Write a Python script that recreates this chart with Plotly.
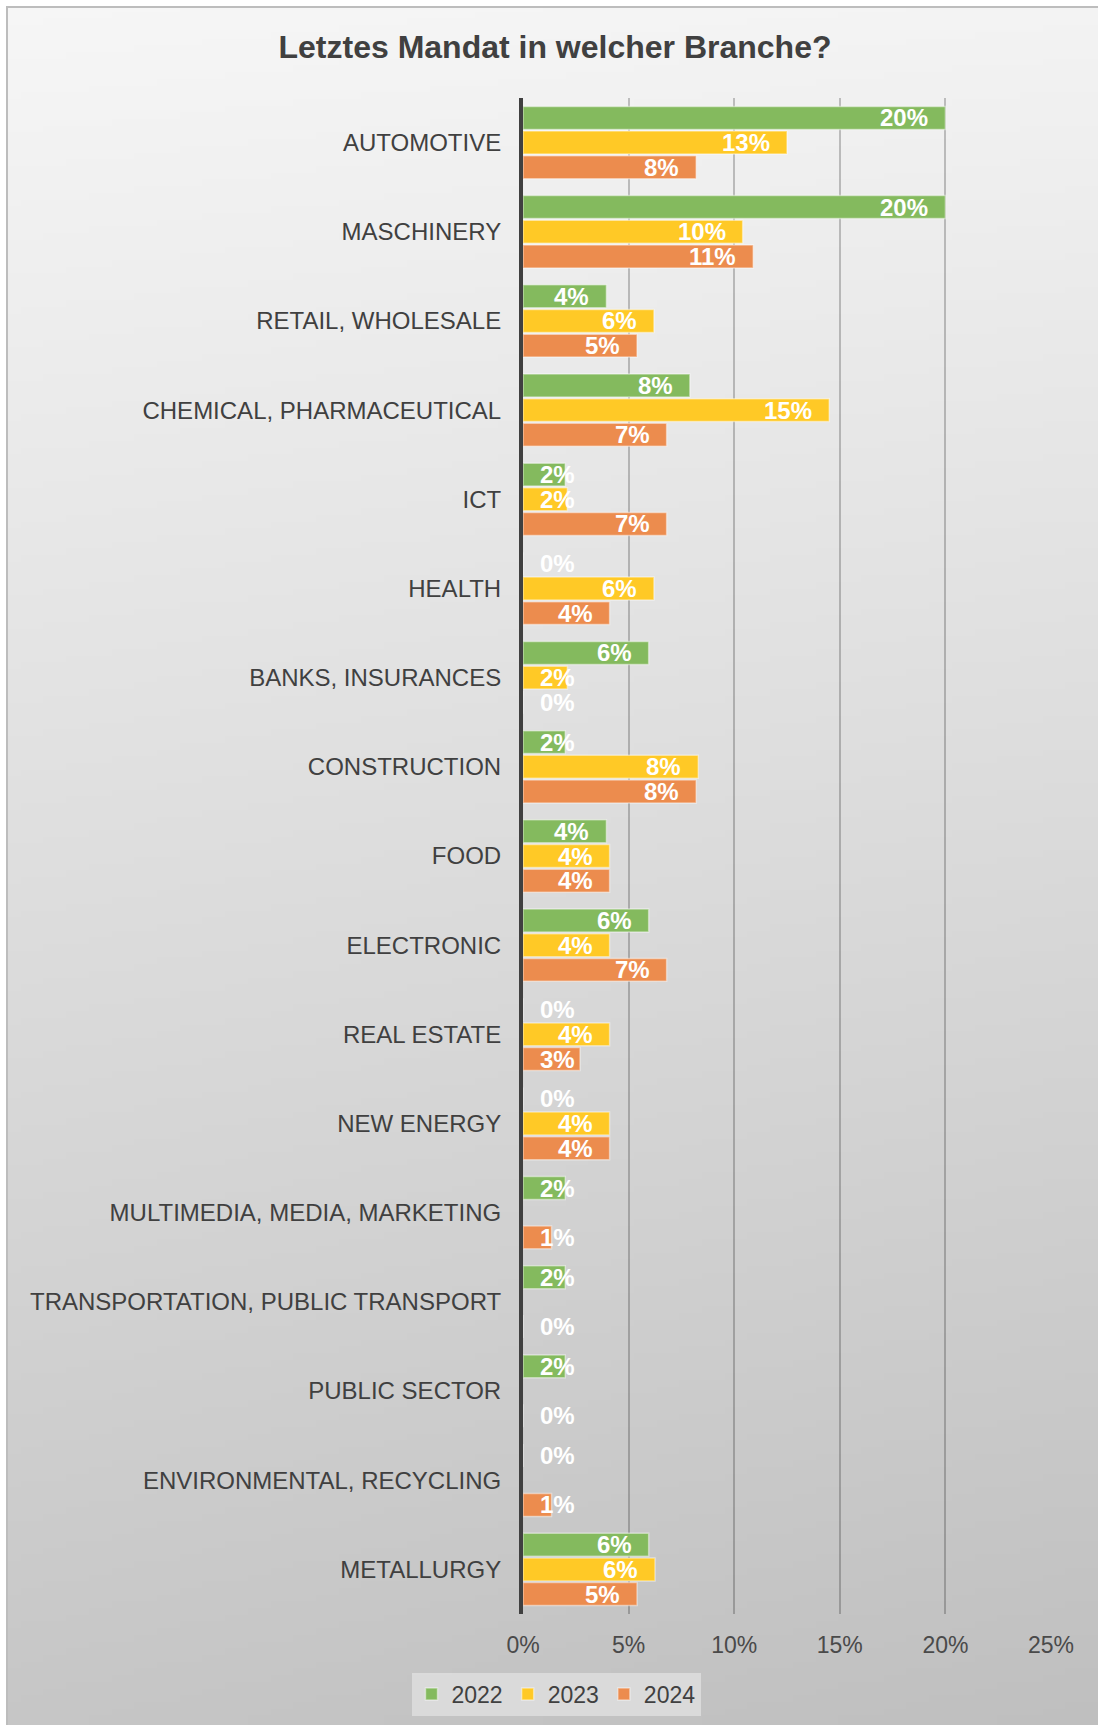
import math, zlib, struct, base64
import plotly.graph_objects as go

categories = ["AUTOMOTIVE", "MASCHINERY", "RETAIL, WHOLESALE", "CHEMICAL, PHARMACEUTICAL",
              "ICT", "HEALTH", "BANKS, INSURANCES", "CONSTRUCTION", "FOOD", "ELECTRONIC",
              "REAL ESTATE", "NEW ENERGY", "MULTIMEDIA, MEDIA, MARKETING",
              "TRANSPORTATION, PUBLIC TRANSPORT", "PUBLIC SECTOR", "ENVIRONMENTAL, RECYCLING",
              "METALLURGY"]
v2022 = [20.0, 20.0, 3.95, 7.9, 2.0, 0, 5.95, 2.0, 3.95, 5.95, 0, 0, 2.0, 2.0, 2.0, 0, 5.95]
v2023 = [12.5, 10.4, 6.2, 14.5, 2.1, 6.2, 2.1, 8.3, 4.1, 4.1, 4.1, 4.1, None, None, None, None, 6.25]
v2024 = [8.2, 10.9, 5.4, 6.8, 6.8, 4.1, 0, 8.2, 4.1, 6.8, 2.7, 4.1, 1.35, 0, 0, 1.35, 5.4]
series_names = ["2022", "2023", "2024"]
series_vals = [v2022, v2023, v2024]
colors = ["#84BA5E", "#FFC926", "#EC8C4E"]
x_ticks = [0, 5, 10, 15, 20, 25]

W, H = 1098, 1725
ML, MR, MT, MB = 523, 47, 98, 111
PW, PH = W - ML - MR, H - MT - MB
XMAX = 25
BARGAP, GROUPGAP = 0.17, 0.07
FONT = "Liberation Sans, Arial, sans-serif"
DARK = "#404040"


def make_png(w, h):
    rows = []
    for yy in range(h):
        v = yy / (h - 1)
        row = bytearray([0])
        for xx in range(w):
            u = xx / (w - 1)
            c = int(round(246 - 3 * u - 48 * v - 4 * u * v))
            row += bytes([c, c, c])
        rows.append(bytes(row))
    raw = b"".join(rows)

    def chunk(t, d):
        return struct.pack(">I", len(d)) + t + d + struct.pack(">I", zlib.crc32(t + d) & 0xffffffff)
    ihdr = struct.pack(">IIBBBBB", w, h, 8, 2, 0, 0, 0)
    return (b"\x89PNG\r\n\x1a\n" + chunk(b"IHDR", ihdr) +
            chunk(b"IDAT", zlib.compress(raw, 9)) + chunk(b"IEND", b""))


bg_uri = "data:image/png;base64," + base64.b64encode(make_png(48, 256)).decode()

fig = go.Figure()
for name, vals, col in zip(series_names, series_vals, colors):
    fig.add_trace(go.Bar(
        y=categories, x=vals, name=name, orientation="h",
        marker=dict(color=col, line=dict(color="rgba(255,255,255,0.45)", width=1.5)),
        hoverinfo="x+y+name"))

# data labels
px_per_unit = PW / XMAX
pitch = PH / len(categories) * (1 - BARGAP) / 3
annotations = []
for i, (vals, shift) in enumerate(zip(series_vals, [pitch, 0, -pitch])):
    for cat, v in zip(categories, vals):
        if v is None:
            continue
        txt = f"{int(math.floor(v + 0.5))}%"
        if v * px_per_unit >= 67:
            ax, anchor, xs = v, "right", -15
        else:
            ax, anchor, xs = 0, "left", 15
        annotations.append(dict(
            x=ax, y=cat, xref="x", yref="y", text=f"<b>{txt}</b>", showarrow=False,
            xanchor=anchor, yanchor="middle", xshift=xs, yshift=shift,
            font=dict(family=FONT, size=24, color="white")))

fig.update_layout(
    width=W, height=H,
    margin=dict(l=ML, r=MR, t=MT, b=MB, pad=0),
    paper_bgcolor="white", plot_bgcolor="rgba(0,0,0,0)",
    barmode="group", bargap=BARGAP, bargroupgap=GROUPGAP,
    font=dict(family=FONT, size=23, color=DARK),
    title=dict(text="<b>Letztes Mandat in welcher Branche?</b>", x=555 / W, xref="container",
               y=1 - 47 / H, yref="container", xanchor="center", yanchor="middle",
               font=dict(family=FONT, size=32, color=DARK)),
    xaxis=dict(range=[0, XMAX], tickvals=x_ticks, ticktext=[f"{t}%" for t in x_ticks],
               showgrid=True, gridcolor="rgba(0,0,0,0.22)", gridwidth=2, zeroline=False,
               showline=False, ticks="outside", ticklen=0, ticklabelstandoff=10,
               tickfont=dict(size=23, color="#4a4a4a"), fixedrange=True),
    yaxis=dict(type="category", categoryorder="array", categoryarray=categories,
               autorange="reversed", showline=True, linecolor=DARK, linewidth=4,
               showgrid=False, ticks="", ticklabelstandoff=13,
               tickfont=dict(size=24, color=DARK)),
    legend=dict(orientation="h", xref="container", yref="container",
                x=556 / W, y=1 - 1694 / H, xanchor="center", yanchor="middle",
                bgcolor="rgba(222,222,222,0.85)", font=dict(size=23, color=DARK),
                itemwidth=30, traceorder="normal"),
    annotations=annotations,
    images=[dict(source=bg_uri, xref="paper", yref="paper",
                 x=-(ML - 8) / PW, y=1 + (MT - 8) / PH,
                 sizex=(W - 8) / PW, sizey=(H - 8) / PH,
                 sizing="stretch", xanchor="left", yanchor="top", layer="below")],
    shapes=[dict(type="rect", xref="paper", yref="paper",
                 x0=-(ML - 7) / PW, x1=1 + (MR + 40) / PW,
                 y0=-(MB + 40) / PH, y1=1 + (MT - 7) / PH,
                 line=dict(color="#bdbdbd", width=2), fillcolor="rgba(0,0,0,0)",
                 layer="above")],
    showlegend=True,
)

fig.write_html("out.html", config={"displayModeBar": False},
               post_script="document.body.style.margin='0';document.body.style.overflow='hidden';")
